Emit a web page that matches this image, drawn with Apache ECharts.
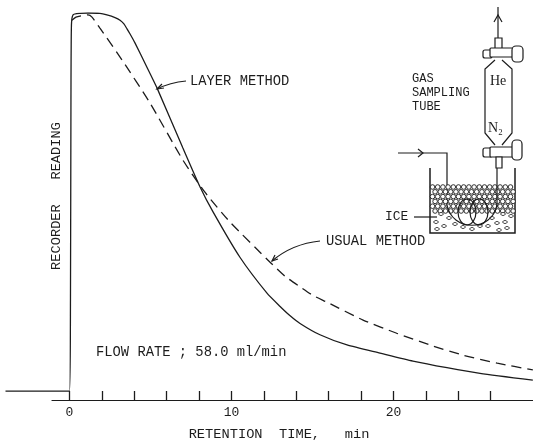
<!DOCTYPE html>
<html><head><meta charset="utf-8">
<style>html,body{margin:0;padding:0;background:#fff}#c{width:533px;height:446px}</style>
<script src="https://cdn.jsdelivr.net/npm/echarts@6/dist/echarts.min.js"></script>
</head><body><div id="c"></div>
<script>
// retention time (min), recorder reading (% of peak)
const layerX=[-3.95,0,0.06,0.09,0.12,0.22,0.65,1.14,1.88,2.31,2.81,3.12,3.36,3.55,3.73,4.04,4.72,5.4,7.0,8.06,8.86,10.52,12.19,13,13.6,14.23,15.46,17.13,19.17,21.2,23.3,25.34,28.6];
const layerY=[0,0,24,77,96.8,99.5,99.9,100,99.9,99.5,98.8,98.1,97.1,95.8,94.5,92.1,86.2,80.2,64.3,54,47.4,35.4,25.9,22.4,20,17.9,14.9,12.2,10.05,7.95,6.2,4.7,2.9];
const usualX=[0.15,0.4,0.77,1.14,1.39,1.88,3.24,4.97,7,8.36,9.91,12.38,13.3,14.23,15.03,15.9,18.12,20.2,22.25,24.3,26.4,28.6];
const usualY=[98.1,98.9,99.3,99.5,98.9,96,87.6,76.2,61.1,52.6,44.7,34.1,30.4,27.6,25.3,23.5,18.8,15.3,12.2,9.5,7.4,5.6];
const tickValues=[0,2,4,6,8,10,12,14,16,18,20,22,24,26];
const labelValues=[0,10,20];
const ink='#1c1c1c', mono='"Liberation Mono","DejaVu Sans Mono",monospace';
const zip=(a,b)=>a.map((v,i)=>[v,b[i]]);

const S={stroke:ink,lineWidth:1.2,fill:null};
const g=[];
const line=(pts,w)=>g.push({type:'polyline',silent:true,shape:{points:pts},style:{...S,lineWidth:w||1.2}});
const rect=(x,y,w,h,r)=>g.push({type:'rect',silent:true,shape:{x,y,width:w,height:h,r:r||0},style:{...S,fill:'#fff'}});
const txt=(t,x,y,size,font)=>g.push({type:'text',silent:true,style:{text:t,x,y,fill:ink,font:(size||13.8)+'px '+(font||mono),textVerticalAlign:'middle'}});

// leaders
g.push({type:'bezierCurve',silent:true,shape:{x1:186,y1:81,x2:157,y2:89,cpx1:175,cpy1:82,cpx2:165,cpy2:85},style:S});
line([[162,84],[157,89],[164,88]]);
g.push({type:'bezierCurve',silent:true,shape:{x1:320,y1:241,x2:272,y2:261,cpx1:300,cpy1:243,cpx2:285,cpy2:250},style:S});
line([[275,255],[272,261],[278,259]]);

// beaker + inlet
line([[430,168],[430,233],[515,233],[515,168]],1.5);
line([[398,153],[447,153],[447,207]]);
line([[418,149],[423,153],[418,157]]);
// ice pebbles (dense layer)
for(let r=0;r<6;r++){for(let i=0;i<16;i++){
  const x=432.5+i*5.2+(r%2?2.6:0), y=187+r*4.8;
  if(x<513.5) g.push({type:'circle',silent:true,shape:{cx:x,cy:y,r:2.3},style:{stroke:ink,lineWidth:0.9,fill:'#fff'}});
}}
// ice pebbles (sparse layer)
[[441,214],[449,218],[436,222],[444,226],[455,224],[463,227],[472,229],[480,226],[488,226],[497,223],[505,222],[499,230],[507,228],[437,229],[492,218],[511,216],[503,214]].forEach(p=>{
  g.push({type:'ellipse',silent:true,shape:{cx:p[0],cy:p[1],rx:2.2,ry:1.5},style:{stroke:ink,lineWidth:0.9,fill:'#fff'}});
});
// coil
g.push({type:'bezierCurve',silent:true,shape:{x1:447,y1:205,x2:497,y2:205,cpx1:452,cpy1:232,cpx2:492,cpy2:232},style:S});
g.push({type:'ellipse',silent:true,shape:{cx:467,cy:212,rx:9,ry:13},style:S});
g.push({type:'ellipse',silent:true,shape:{cx:479,cy:212,rx:9,ry:13},style:S});
// tube
line([[498,38],[498,7]]);line([[494,22],[498,15],[502,22]]);
rect(495,38,7,11);
line([[495,60],[485,69],[485,133],[495,145]]);
line([[502,60],[512,69],[512,133],[502,145]]);
rect(483,50,9,8,2);
rect(490,48,23,9,1);
rect(512,46,11,16,4);
rect(483,148,9,9,2);
rect(490,147,23,10,1);
rect(512,140,10,20,4);
rect(496,157,6,11);
line([[497,168],[497,207]]);
// labels
txt('LAYER METHOD',190,81);
txt('USUAL METHOD',326,241);
txt('FLOW RATE ; 58.0 ml/min',96,352);
txt('GAS',412,79,12);txt('SAMPLING',412,93,12);txt('TUBE',412,107,12);
txt('ICE',385,217,13);
txt('He',490,81,14,'"Liberation Serif",serif');
txt('N\u2082',488,128,14,'"Liberation Serif",serif');
line([[414,217],[437,217]]);

const chart=echarts.init(document.getElementById('c'),null,{renderer:'canvas'});
chart.setOption({
  animation:false,backgroundColor:'#fff',
  grid:[{left:5.5,right:0,top:13,bottom:39},{left:52,right:0,top:13,bottom:39}],
  xAxis:[
   {type:'value',gridIndex:0,min:-3.95,max:28.61,show:false},
   {type:'value',gridIndex:1,min:-1.08,max:28.61,
    name:'RETENTION  TIME,   min',nameLocation:'middle',nameGap:27,
    nameTextStyle:{color:ink,fontFamily:mono,fontSize:13.7,padding:[0,27,0,0]},
    axisLine:{show:true,onZero:false,lineStyle:{color:ink,width:1.2}},
    axisTick:{show:true,inside:true,length:9,customValues:tickValues,lineStyle:{color:ink,width:1.3}},
    axisLabel:{show:true,customValues:labelValues,margin:6,color:ink,fontFamily:mono,fontSize:13},
    splitLine:{show:false}}],
  yAxis:[
   {type:'value',gridIndex:0,min:-4.2,max:100,
    name:'RECORDER   READING',nameLocation:'middle',nameRotate:90,nameGap:-58,
    nameTextStyle:{color:ink,fontFamily:mono,fontSize:13.7,padding:[0,0,0,28]},
    axisLine:{show:false},axisTick:{show:false},axisLabel:{show:false},splitLine:{show:false}},
   {type:'value',gridIndex:1,min:-4.2,max:100,show:false}],
  series:[
    {name:'LAYER METHOD',type:'line',xAxisIndex:0,yAxisIndex:0,data:zip(layerX,layerY),showSymbol:false,smooth:0.2,
      lineStyle:{color:ink,width:1.3}},
    {name:'USUAL METHOD',type:'line',xAxisIndex:0,yAxisIndex:0,data:zip(usualX,usualY),showSymbol:false,smooth:0.2,
      lineStyle:{color:ink,width:1.3,type:[10,6]}}
  ],
  graphic:g
});
</script></body></html>
